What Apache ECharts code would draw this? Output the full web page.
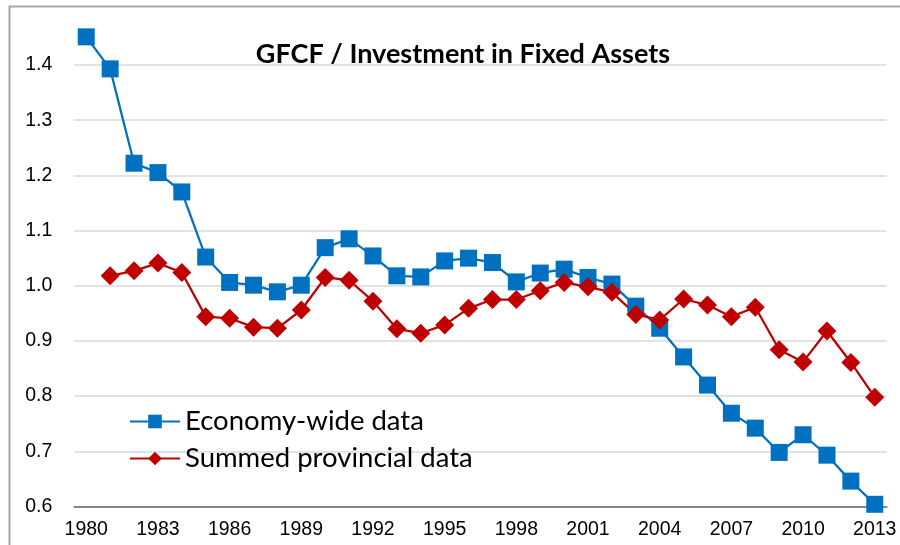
<!DOCTYPE html>
<html>
<head>
<meta charset="utf-8">
<script src="https://cdn.jsdelivr.net/npm/echarts@6/dist/echarts.min.js"></script>
<style>html,body{margin:0;padding:0;background:#fff;}#c{width:900px;height:545px;}</style>
</head>
<body>
<div id="c"></div>
<script>
var years = ['1980','1981','1982','1983','1984','1985','1986','1987','1988','1989','1990','1991','1992','1993','1994','1995','1996','1997','1998','1999','2000','2001','2002','2003','2004','2005','2006','2007','2008','2009','2010','2011','2012','2013'];
var economyWide = [1.451,1.393,1.222,1.205,1.170,1.052,1.006,1.001,0.989,1.001,1.069,1.085,1.054,1.018,1.016,1.045,1.050,1.042,1.007,1.023,1.030,1.015,1.003,0.963,0.923,0.871,0.820,0.769,0.742,0.698,0.730,0.693,0.646,0.604];
var provincial = [null,1.018,1.027,1.041,1.024,0.944,0.941,0.925,0.923,0.956,1.015,1.010,0.972,0.922,0.914,0.929,0.959,0.975,0.975,0.991,1.006,0.998,0.988,0.948,0.938,0.976,0.965,0.944,0.961,0.884,0.862,0.918,0.861,0.798];
var seriesNames = ['Economy-wide data','Summed provincial data'];
var titleText = 'GFCF / Investment in Fixed Assets';

var chart = echarts.init(document.getElementById('c'));
chart.setOption({
  animation: false,
  backgroundColor: '#ffffff',
  graphic: [{
    type: 'rect', left: 7, top: 4,
    shape: {x: 0, y: 0, width: 1000, height: 1000},
    style: {fill: 'none', stroke: '#a6a6a6', lineWidth: 2},
    z: -1, silent: true
  }],
  title: {
    text: titleText,
    left: 458, top: 36, textAlign: 'center',
    textStyle: {fontFamily: 'Lato', fontWeight: 'bold', fontSize: 27, color: '#000'}
  },
  legend: {
    orient: 'vertical', left: 129, top: 407.5, padding: 0,
    itemWidth: 50, itemHeight: 17, itemGap: 9,
    textStyle: {fontFamily: 'Lato', fontSize: 27.5, lineHeight: 17, color: '#000'},
    data: seriesNames
  },
  grid: {left: 74.3, right: 13.3, top: 9.8, bottom: 38.5},
  xAxis: {
    type: 'category', data: years, boundaryGap: true,
    axisLine: {lineStyle: {color: '#868686', width: 2}},
    axisTick: {interval: 2, length: 6, lineStyle: {color: '#868686', width: 1.5}},
    axisLabel: {interval: 2, margin: 13, fontFamily: 'Liberation Sans', fontSize: 19.5, color: '#000'}
  },
  yAxis: {
    type: 'value', min: 0.6, max: 1.5, interval: 0.1,
    axisLine: {show: false}, axisTick: {show: false},
    axisLabel: {showMaxLabel: false, margin: 22, fontFamily: 'Liberation Sans', fontSize: 19.5, color: '#000',
      formatter: function (v) { return v.toFixed(1); }},
    splitLine: {show: true, showMaxLine: false, lineStyle: {color: '#d9d9d9', width: 1.5}}
  },
  series: [{
    name: seriesNames[0], type: 'line', data: economyWide,
    symbol: 'rect', symbolSize: 17, showAllSymbol: true,
    itemStyle: {color: '#0070C0'},
    lineStyle: {color: '#0070C0', width: 2.25}
  }, {
    name: seriesNames[1], type: 'line', data: provincial,
    symbol: 'diamond', symbolSize: 19, showAllSymbol: true,
    itemStyle: {color: '#C00000'},
    lineStyle: {color: '#C00000', width: 2.25}
  }]
});
</script>
</body>
</html>
